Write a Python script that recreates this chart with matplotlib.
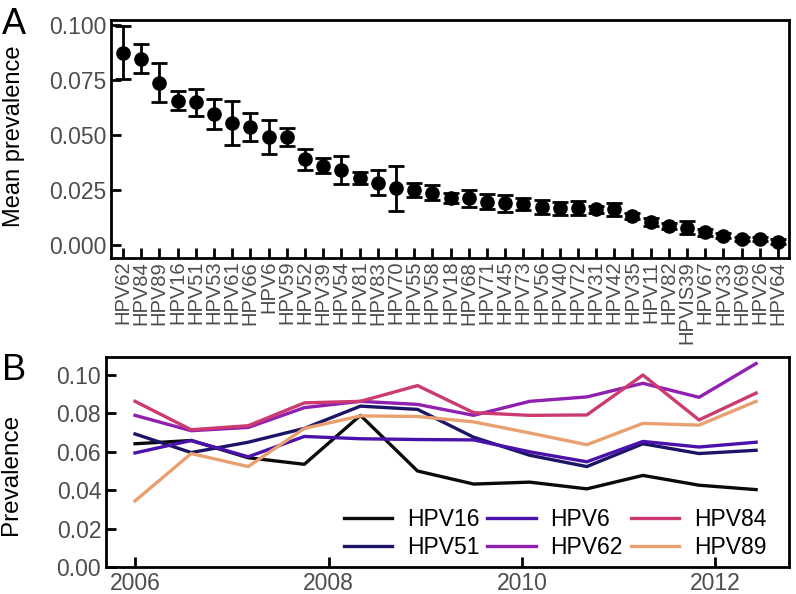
import numpy as np
import matplotlib
matplotlib.use("Agg")
import matplotlib.pyplot as plt

plt.rcParams['font.family'] = ['Liberation Sans', 'DejaVu Sans']

# panel A: mean prevalence per type, with error bar half-widths
types = ["HPV62", "HPV84", "HPV89", "HPV16", "HPV51", "HPV53", "HPV61", "HPV66",
         "HPV6", "HPV59", "HPV52", "HPV39", "HPV54", "HPV81", "HPV83", "HPV70",
         "HPV55", "HPV58", "HPV18", "HPV68", "HPV71", "HPV45", "HPV73", "HPV56",
         "HPV40", "HPV72", "HPV31", "HPV42", "HPV35", "HPV11", "HPV82", "HPVIS39",
         "HPV67", "HPV33", "HPV69", "HPV26", "HPV64"]
mean_prev = [0.0874, 0.0847, 0.0738, 0.0656, 0.0648, 0.0594, 0.0556, 0.0535,
             0.0492, 0.0490, 0.0390, 0.0360, 0.0341, 0.0306, 0.0283, 0.0258,
             0.0250, 0.0238, 0.0212, 0.0212, 0.0197, 0.0190, 0.0186, 0.0174,
             0.0167, 0.0167, 0.0162, 0.0162, 0.0132, 0.0106, 0.0086, 0.0079,
             0.0058, 0.0042, 0.0026, 0.0026, 0.0015]
err = [0.0120, 0.0067, 0.0088, 0.0044, 0.0060, 0.0068, 0.0100, 0.0063,
       0.0078, 0.0040, 0.0048, 0.0034, 0.0065, 0.0028, 0.0057, 0.0102,
       0.0030, 0.0033, 0.0023, 0.0040, 0.0033, 0.0038, 0.0027, 0.0032,
       0.0030, 0.0032, 0.0015, 0.0030, 0.0015, 0.0018, 0.0015, 0.0028,
       0.0015, 0.0012, 0.0010, 0.0010, 0.0010]

# panel B: prevalence over time
years = [2006.00, 2006.58, 2007.17, 2007.75, 2008.33, 2008.92,
         2009.50, 2010.08, 2010.67, 2011.25, 2011.83, 2012.42]
hpv16 = [0.0642, 0.0659, 0.0569, 0.0535, 0.0790, 0.0500, 0.0432, 0.0442, 0.0407, 0.0477, 0.0426, 0.0403]
hpv51 = [0.0693, 0.0596, 0.0650, 0.0722, 0.0838, 0.0821, 0.0676, 0.0582, 0.0523, 0.0642, 0.0591, 0.0608]
hpv6 = [0.0594, 0.0659, 0.0574, 0.0680, 0.0668, 0.0664, 0.0662, 0.0600, 0.0548, 0.0654, 0.0625, 0.0650]
hpv62 = [0.0790, 0.0710, 0.0727, 0.0830, 0.0863, 0.0847, 0.0790, 0.0863, 0.0886, 0.0957, 0.0884, 0.1060]
hpv84 = [0.0863, 0.0715, 0.0736, 0.0855, 0.0863, 0.0945, 0.0804, 0.0790, 0.0792, 0.1000, 0.0766, 0.0906]
hpv89 = [0.0344, 0.0591, 0.0523, 0.0722, 0.0787, 0.0784, 0.0756, 0.0698, 0.0637, 0.0748, 0.0739, 0.0863]

series = [("HPV16", hpv16, "#0a0a0a"), ("HPV51", hpv51, "#1c1466"),
          ("HPV6", hpv6, "#4a12aa"), ("HPV62", hpv62, "#9020b0"),
          ("HPV84", hpv84, "#cc3a72"), ("HPV89", hpv89, "#e8a070")]

grey = "#4d4d4d"

fig = plt.figure(figsize=(7.96, 5.94), dpi=100)

def style(ax):
    for s in ax.spines.values():
        s.set_linewidth(2)
        s.set_color("black")
    ax.tick_params(direction="in", length=7, width=2, colors="black",
                   labelcolor=grey, labelsize=16.5)

# ---- panel A
axA = fig.add_axes([0.1394, 0.5657, 0.8518, 0.4007])
x = np.arange(len(types))
axA.errorbar(x, mean_prev, yerr=err, fmt="o", color="black", ms=9.5,
             elinewidth=2, capsize=6, capthick=2)
axA.set_xlim(-0.66, 36.6)
axA.set_ylim(-0.0059, 0.1023)
axA.set_yticks([0, 0.025, 0.05, 0.075, 0.1])
axA.set_yticklabels(["0.000", "0.025", "0.050", "0.075", "0.100"])
axA.set_xticks(x)
axA.set_xticklabels(types, rotation=90)
style(axA)
axA.tick_params(axis="x", labelsize=14.5, pad=2)
axA.set_ylabel("Mean prevalence", fontsize=17)
axA.yaxis.set_label_coords(-0.127, 0.51)
fig.text(0.003, 0.942, "A", fontsize=26)

# ---- panel B
axB = fig.add_axes([0.1332, 0.0455, 0.858, 0.3535])
for name, vals, col in series:
    axB.plot(years, vals, color=col, lw=2.4, label=name)
axB.set_xlim(2005.70, 2012.76)
axB.set_ylim(0, 0.1094)
axB.set_xticks([2006, 2008, 2010, 2012])
axB.set_yticks([0, 0.02, 0.04, 0.06, 0.08, 0.10])
axB.set_yticklabels(["0.00", "0.02", "0.04", "0.06", "0.08", "0.10"])
style(axB)
axB.set_ylabel("Prevalence", fontsize=17.5)
axB.yaxis.set_label_coords(-0.123, 0.44)
axB.legend(ncol=3, loc="lower right", bbox_to_anchor=(0.997, -0.06), frameon=False,
           fontsize=16.5, handlelength=2.1, columnspacing=0.35, handletextpad=0.65,
           labelspacing=0.2)
fig.text(0.003, 0.36, "B", fontsize=26)

fig.savefig("out.png", dpi=100)
